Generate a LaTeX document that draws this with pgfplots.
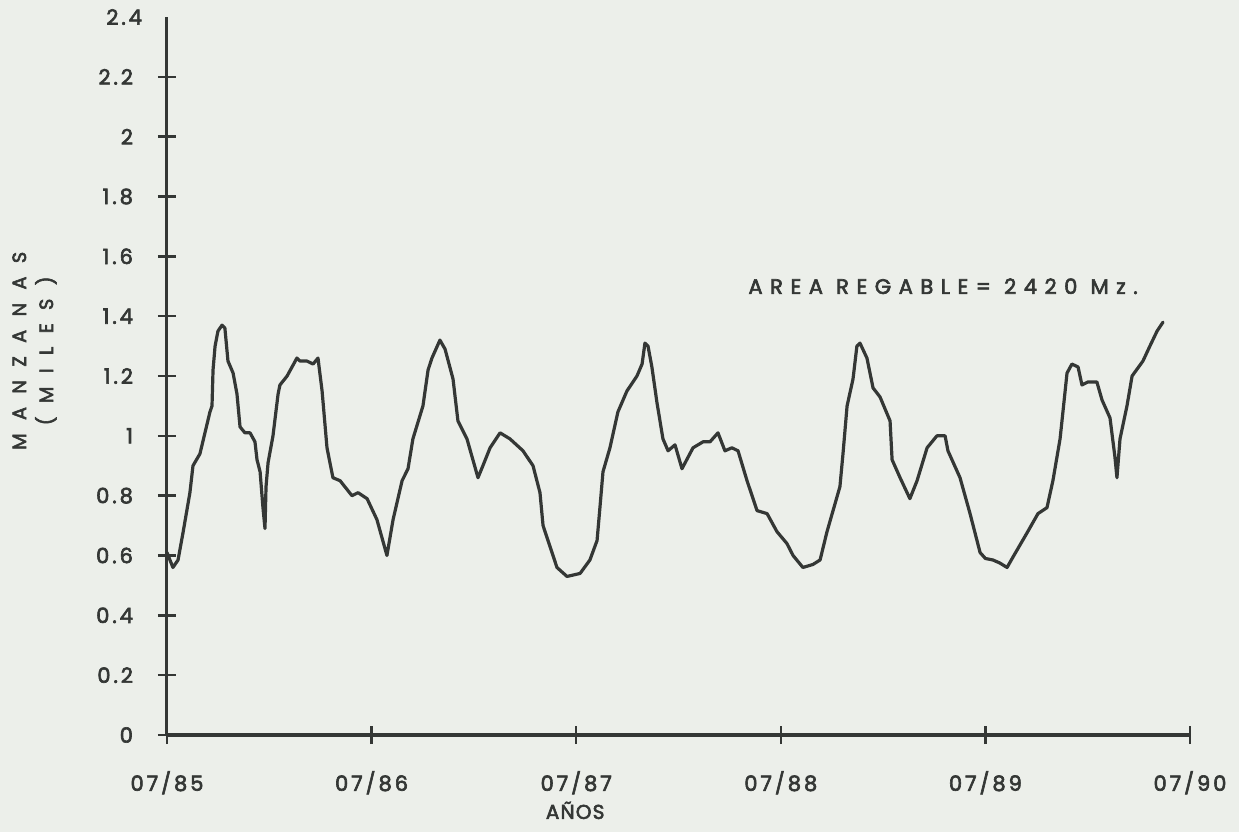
\documentclass[border=0pt]{standalone}
\usepackage{fontspec}
\setmainfont{Poppins}
\newfontfamily\lblfont[LetterSpace=14, FakeBold=3]{Poppins}
\newfontfamily\annfont[LetterSpace=36, FakeBold=3]{Poppins}
\newfontfamily\ylblfont[LetterSpace=70, FakeBold=3]{Poppins}
\newfontfamily\xlblfont[LetterSpace=6, FakeBold=3]{Poppins}
\usepackage{pgfplots}
\pgfplotsset{compat=1.18}
\definecolor{ink}{RGB}{52,55,53}
\definecolor{paper}{RGB}{236,239,234}
\pgfplotstableread{
x y
0.000 0.61
0.029 0.56
0.054 0.585
0.078 0.675
0.112 0.81
0.127 0.90
0.161 0.94
0.210 1.08
0.220 1.10
0.225 1.22
0.235 1.30
0.249 1.35
0.269 1.37
0.283 1.36
0.298 1.25
0.323 1.21
0.342 1.14
0.357 1.03
0.381 1.01
0.406 1.01
0.430 0.98
0.440 0.92
0.455 0.88
0.469 0.76
0.479 0.69
0.484 0.83
0.494 0.91
0.518 1.00
0.543 1.14
0.552 1.17
0.587 1.20
0.611 1.23
0.635 1.26
0.650 1.25
0.684 1.25
0.714 1.24
0.738 1.26
0.758 1.15
0.782 0.96
0.811 0.86
0.846 0.85
0.904 0.80
0.934 0.81
0.978 0.79
1.026 0.72
1.075 0.60
1.105 0.72
1.149 0.85
1.178 0.89
1.202 0.99
1.251 1.10
1.276 1.22
1.295 1.26
1.334 1.32
1.359 1.29
1.398 1.19
1.422 1.05
1.466 0.99
1.491 0.93
1.520 0.86
1.544 0.90
1.579 0.96
1.628 1.01
1.676 0.99
1.740 0.95
1.789 0.90
1.823 0.81
1.838 0.70
1.872 0.63
1.906 0.56
1.955 0.53
2.019 0.54
2.067 0.585
2.102 0.65
2.116 0.76
2.131 0.88
2.165 0.96
2.204 1.08
2.248 1.15
2.297 1.20
2.322 1.24
2.336 1.31
2.351 1.30
2.370 1.23
2.395 1.11
2.424 0.99
2.449 0.95
2.483 0.97
2.517 0.89
2.571 0.96
2.620 0.98
2.654 0.98
2.693 1.01
2.727 0.95
2.761 0.96
2.791 0.95
2.835 0.85
2.884 0.75
2.933 0.74
2.981 0.68
3.030 0.64
3.060 0.60
3.108 0.56
3.157 0.57
3.192 0.585
3.226 0.68
3.289 0.83
3.304 0.94
3.324 1.10
3.353 1.19
3.372 1.30
3.387 1.31
3.421 1.26
3.451 1.16
3.485 1.13
3.534 1.05
3.544 0.92
3.583 0.86
3.631 0.79
3.666 0.85
3.715 0.96
3.763 1.00
3.803 1.00
3.817 0.95
3.876 0.86
3.925 0.74
3.974 0.61
4.000 0.59
4.037 0.585
4.070 0.575
4.106 0.56
4.135 0.595
4.203 0.675
4.257 0.74
4.301 0.76
4.330 0.85
4.365 0.99
4.379 1.08
4.399 1.21
4.423 1.24
4.453 1.23
4.472 1.17
4.501 1.18
4.545 1.18
4.570 1.12
4.609 1.06
4.633 0.93
4.643 0.86
4.658 0.99
4.692 1.10
4.717 1.20
4.770 1.25
4.804 1.30
4.839 1.35
4.868 1.38
}\areadata
\begin{document}
\begin{tikzpicture}
\path[use as bounding box, fill=paper] (-83.5pt,-48.5pt) rectangle (536pt,367.5pt);
\begin{axis}[
  at={(0,0)}, anchor=south west,
  scale only axis, width=511.5pt, height=359pt,
  xmin=0, xmax=5, ymin=0, ymax=2.4,
  axis lines=left,
  axis line style={ink, line width=1.5pt, -},
  x axis line style={line width=2.4pt},
  xtick={0,1,2,3,4,5},
  xticklabels={07/85,07/86,07/87,07/88,07/89,07/90},
  ytick={0,0.2,0.4,0.6,0.8,1,1.2,1.4,1.6,1.8,2,2.2},
  yticklabels={0,0.2,0.4,0.6,0.8,1,1.2,1.4,1.6,1.8,2,2.2},
  extra y ticks={2.4},
  extra y tick labels={2.4},
  extra y tick style={major tick length=0pt},
  tick align=center,
  major tick length=9pt,
  tick style={ink, line width=1.2pt},
  xticklabel style={font=\lblfont\fontsize{10.5}{12}\selectfont, text=ink, yshift=-10pt},
  yticklabel style={font=\lblfont\fontsize{10.5}{12}\selectfont, text=ink, xshift=-9pt},
  xlabel={AÑOS},
  xlabel style={at={(axis description cs:0.399,-0.105)}, anchor=center, font=\xlblfont\fontsize{10}{11}\selectfont, text=ink},
  ylabel={MANZANAS\\(MILES)},
  ylabel style={at={(axis description cs:-0.1295,0.535)}, anchor=center, align=center, font=\ylblfont\fontsize{9.6}{13.5}\selectfont, text=ink},
  clip=false,
]
\addplot[ink, line width=1.6pt, line join=round, line cap=round] table[x=x, y=y] {\areadata};
\node[anchor=west, inner sep=0pt, font=\annfont\fontsize{10.5}{12}\selectfont, text=ink] at (axis cs:2.84,1.50) {AREA REGABLE= 2420 Mz.};
\end{axis}
\end{tikzpicture}
\end{document}
